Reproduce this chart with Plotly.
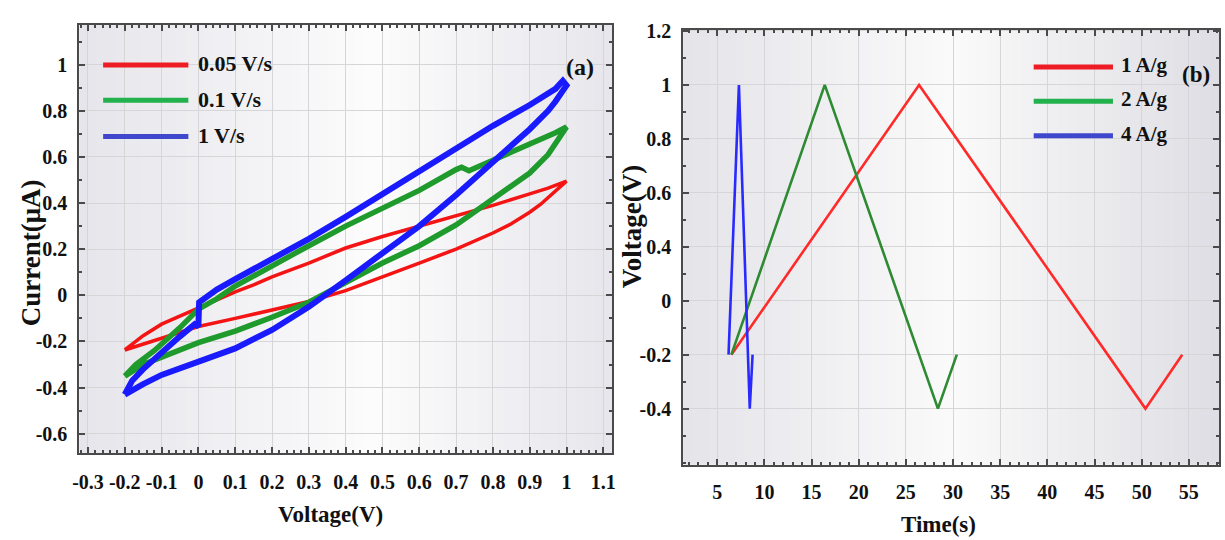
import plotly.graph_objects as go

# ---------------- Panel (a): cyclic voltammetry (V, uA) ----------------
red_v = [-0.2, -0.15, -0.1, -0.05, 0.0, 0.05, 0.1, 0.15, 0.2, 0.3, 0.4, 0.5, 0.6, 0.7, 0.8, 0.9, 0.95, 1.0,
         0.97, 0.93, 0.9, 0.85, 0.8, 0.7, 0.6, 0.5, 0.4, 0.3, 0.2, 0.1, 0.0, -0.1, -0.15, -0.2]
red_i = [-0.237, -0.175, -0.125, -0.09, -0.055, -0.02, 0.015, 0.045, 0.08, 0.14, 0.205, 0.255, 0.3, 0.345, 0.39, 0.44, 0.465, 0.495,
         0.45, 0.395, 0.36, 0.31, 0.27, 0.2, 0.14, 0.08, 0.02, -0.027, -0.065, -0.1, -0.135, -0.185, -0.21, -0.237]

green_v = [-0.2, -0.17, -0.12, -0.05, 0.0, 0.05, 0.1, 0.2, 0.3, 0.4, 0.5, 0.6, 0.7, 0.715, 0.735, 0.8, 0.9, 0.97, 1.0,
           0.98, 0.95, 0.9, 0.8, 0.7, 0.6, 0.5, 0.4, 0.3, 0.2, 0.1, 0.0, -0.1, -0.15, -0.2]
green_i = [-0.35, -0.3, -0.24, -0.14, -0.06, -0.015, 0.04, 0.13, 0.215, 0.3, 0.38, 0.455, 0.545, 0.555, 0.54, 0.585, 0.655, 0.705, 0.73,
           0.68, 0.61, 0.53, 0.415, 0.305, 0.215, 0.14, 0.055, -0.03, -0.095, -0.155, -0.205, -0.265, -0.3, -0.35]

blue_v = [-0.2, -0.18, -0.15, -0.1, -0.05, -0.01, 0.0, 0.002, 0.05, 0.1, 0.2, 0.3, 0.4, 0.5, 0.6, 0.7, 0.8, 0.9, 0.97, 0.99, 1.0,
          0.97, 0.95, 0.9, 0.8, 0.7, 0.6, 0.5, 0.4, 0.3, 0.2, 0.1, 0.0, -0.1, -0.15, -0.2]
blue_i = [-0.43, -0.37, -0.32, -0.245, -0.178, -0.125, -0.135, -0.03, 0.025, 0.07, 0.155, 0.245, 0.34, 0.44, 0.535, 0.635, 0.735, 0.825, 0.895, 0.93, 0.91,
          0.84, 0.8, 0.72, 0.575, 0.435, 0.3, 0.18, 0.065, -0.05, -0.15, -0.23, -0.29, -0.345, -0.385, -0.43]

cv_names = ["0.05 V/s", "0.1 V/s", "1 V/s"]

a_xticks = [-0.3, -0.2, -0.1, 0.0, 0.1, 0.2, 0.3, 0.4, 0.5, 0.6, 0.7, 0.8, 0.9, 1.0, 1.1]
a_xtext = ["-0.3", "-0.2", "-0.1", "0", "0.1", "0.2", "0.3", "0.4", "0.5", "0.6", "0.7", "0.8", "0.9", "1", "1.1"]
a_yticks = [1.0, 0.8, 0.6, 0.4, 0.2, 0.0, -0.2, -0.4, -0.6]
a_ytext = ["1", "0.8", "0.6", "0.4", "0.2", "0", "-0.2", "-0.4", "-0.6"]

# ---------------- Panel (b): charge/discharge (s, V axis position) ----------------
t_1ag = [6.5, 26.4, 50.4, 54.3]
v_1ag = [0.0, 1.0, -0.2, 0.0]
t_2ag = [6.5, 16.4, 28.4, 30.4]
v_2ag = [0.0, 1.0, -0.2, 0.0]
t_4ag = [6.2, 7.3, 8.45, 8.75]
v_4ag = [0.0, 1.0, -0.2, 0.0]
gcd_names = ["1 A/g", "2 A/g", "4 A/g"]

b_xticks = [5, 10, 15, 20, 25, 30, 35, 40, 45, 50, 55]
b_xtext = ["5", "10", "15", "20", "25", "30", "35", "40", "45", "50", "55"]
b_yticks = [1.2, 1.0, 0.8, 0.6, 0.4, 0.2, 0.0, -0.2]
b_ytext = ["1.2", "1", "0.8", "0.6", "0.4", "0", "-0.2", "-0.4"]

# ---------------- styling ----------------
FONT = "Liberation Serif"
RED, GREEN, BLUE = "#f41414", "#1f9a2c", "#1a1aff"
LEG_RED, LEG_GREEN, LEG_BLUE = "#ee1c25", "#22b14c", "#3f48cc"
B_RED, B_GREEN, B_BLUE = "#ff2a2a", "#2e8b34", "#2a2aff"
AXC = "#4a4a4a"
GRID = "#d6d6d8"

fig = go.Figure()

fig.add_trace(go.Scatter(x=red_v, y=red_i, mode="lines", name=cv_names[0],
                         line=dict(color=RED, width=3.5), xaxis="x", yaxis="y", showlegend=False))
fig.add_trace(go.Scatter(x=green_v, y=green_i, mode="lines", name=cv_names[1],
                         line=dict(color=GREEN, width=5.5), xaxis="x", yaxis="y", showlegend=False))
fig.add_trace(go.Scatter(x=blue_v, y=blue_i, mode="lines", name=cv_names[2],
                         line=dict(color=BLUE, width=6), xaxis="x", yaxis="y", showlegend=False))

fig.add_trace(go.Scatter(x=t_1ag, y=v_1ag, mode="lines", name=gcd_names[0],
                         line=dict(color=B_RED, width=2.6), xaxis="x2", yaxis="y2", showlegend=False))
fig.add_trace(go.Scatter(x=t_2ag, y=v_2ag, mode="lines", name=gcd_names[1],
                         line=dict(color=B_GREEN, width=2.6), xaxis="x2", yaxis="y2", showlegend=False))
fig.add_trace(go.Scatter(x=t_4ag, y=v_4ag, mode="lines", name=gcd_names[2],
                         line=dict(color=B_BLUE, width=2.6), xaxis="x2", yaxis="y2", showlegend=False))

W, H = 1225, 540
def px_x(p):
    return p / W
def px_y(p):
    return 1 - p / H

tickfont = dict(family=FONT, size=20, color="#111111", weight="bold")

common_axis = dict(showline=True, linecolor=AXC, linewidth=2, mirror="allticks",
                   ticks="inside", ticklen=6, tickwidth=1.5, tickcolor=AXC,
                   showgrid=True, gridcolor=GRID, gridwidth=1.2, zeroline=False,
                   tickfont=tickfont, tickmode="array")

fig.update_layout(
    width=W, height=H, margin=dict(l=0, r=0, t=0, b=0),
    paper_bgcolor="white", plot_bgcolor="rgba(0,0,0,0)",
    xaxis=dict(domain=[px_x(73), px_x(610)], range=[-0.3234, 1.1223], anchor="y",
               tickvals=a_xticks, ticktext=a_xtext, ticklabelstandoff=10,
               minor=dict(ticks="inside", ticklen=3, dtick=0.02, tick0=0, tickcolor=AXC, showgrid=False),
               **common_axis),
    yaxis=dict(domain=[px_y(451.7), px_y(15)], range=[-0.685, 1.173], anchor="x",
               tickvals=a_yticks, ticktext=a_ytext, ticklabelstandoff=6,
               minor=dict(ticks="inside", ticklen=3, dtick=0.1, tick0=0, tickcolor=AXC, showgrid=False),
               **common_axis),
    xaxis2=dict(domain=[px_x(682.3), px_x(1223)], range=[1.39, 58.2], anchor="y2",
                tickvals=b_xticks, ticktext=b_xtext, ticklabelstandoff=8,
                minor=dict(ticks="inside", ticklen=3, dtick=1, tick0=0, tickcolor=AXC, showgrid=False),
                **common_axis),
    yaxis2=dict(domain=[px_y(463.3), px_y(20)], range=[-0.408, 1.205], anchor="x2",
                tickvals=b_yticks, ticktext=b_ytext, ticklabelstandoff=6,
                minor=dict(ticks="inside", ticklen=3, dtick=0.1, tick0=0, tickcolor=AXC, showgrid=False),
                **common_axis),
)

# gradient backgrounds (vertical stripes)
def lerp(c1, c2, f):
    return tuple(int(round(a + (b - a) * f)) for a, b in zip(c1, c2))

def add_gradient(xref, yref, left, center, right, cpos, n=60):
    for k in range(n):
        f0 = k / n
        fm = (k + 0.5) / n
        if fm <= cpos:
            c = lerp(left, center, fm / cpos)
        else:
            c = lerp(center, right, (fm - cpos) / (1 - cpos))
        fig.add_shape(type="rect", xref=xref, yref=yref, x0=f0, x1=(k + 1) / n + 0.002,
                      y0=0, y1=1, fillcolor="rgb(%d,%d,%d)" % c, line=dict(width=0), layer="below")

add_gradient("x domain", "y domain", (229, 229, 235), (252, 252, 252), (230, 230, 236), 0.55)
add_gradient("x2 domain", "y2 domain", (228, 228, 233), (250, 250, 250), (222, 222, 228), 0.5)

# custom legends
def leg_line(x0, x1, y, color):
    fig.add_shape(type="line", xref="paper", yref="paper", x0=px_x(x0), x1=px_x(x1),
                  y0=px_y(y), y1=px_y(y), line=dict(color=color, width=5))

def text(x, y, s, size, xanchor="left", angle=0):
    fig.add_annotation(x=px_x(x), y=px_y(y), xref="paper", yref="paper", text=s, showarrow=False,
                       xanchor=xanchor, yanchor="middle", textangle=angle,
                       font=dict(family=FONT, size=size, color="#111111", weight="bold"))

for yy, col, nm in zip([56, 92, 129], [LEG_RED, LEG_GREEN, LEG_BLUE], cv_names):
    leg_line(97, 183, yy, col)
    text(191, yy - 1, nm, 22)
for yy, col, nm in zip([58, 93, 128], [LEG_RED, LEG_GREEN, LEG_BLUE], gcd_names):
    leg_line(1036, 1116, yy, col)
    text(1122, yy - 2, nm, 21)

text(578, 58, "(a)", 24, xanchor="center")
text(1200, 66, "(b)", 23, xanchor="center")

# axis titles
text(326, 514, "Voltage(V)", 23, xanchor="center")
text(25, 247, "Current(μA)", 27, xanchor="center", angle=-90)
text(940, 524, "Time(s)", 23, xanchor="center")
text(631, 221, "Voltage(V)", 27, xanchor="center", angle=-90)

fig.write_html("out.html", config={"displayModeBar": False},
               post_script="document.body.style.margin='0';document.body.style.padding='0';"
                           "document.body.style.overflow='hidden';")
